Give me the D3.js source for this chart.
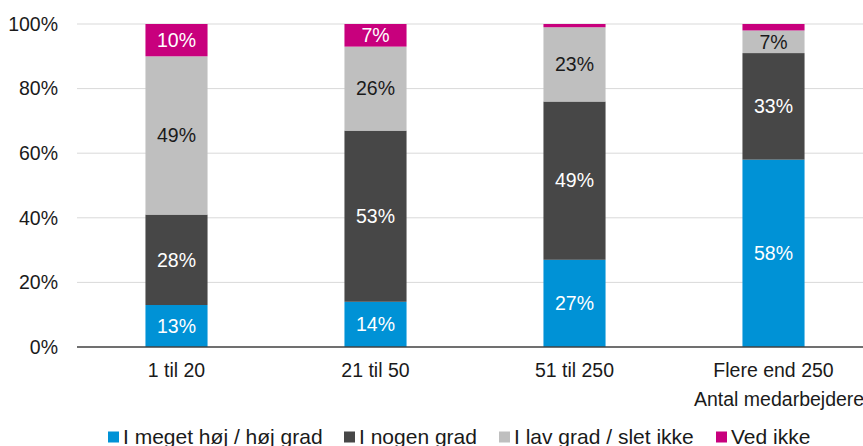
<!DOCTYPE html>
<html>
<head>
<meta charset="utf-8">
<script src="https://cdn.jsdelivr.net/npm/d3@7"></script>
<style>
  html, body { margin: 0; padding: 0; background: #fff; }
  svg { display: block; font-family: "Liberation Sans", Arial, sans-serif; }
</style>
</head>
<body>
<svg id="chart" width="863" height="446"></svg>
<script>
// Company size groups (x axis)
const categories = ["1 til 20", "21 til 50", "51 til 250", "Flere end 250"];
// Answer groups, stacked bottom to top
const seriesNames = ["I meget høj / høj grad", "I nogen grad", "I lav grad / slet ikke", "Ved ikke"];
const highValues  = [13, 14, 27, 58];
const someValues  = [28, 53, 49, 33];
const lowValues   = [49, 26, 23, 7];
const dontKnow    = [10, 7, 1, 2];
// Y axis ticks
const yTicks = [0, 20, 40, 60, 80, 100];
const axisTitle = "Antal medarbejdere";

const colors = ["#0092d6", "#474747", "#bfbfbf", "#c8007d"];
const labelColors = ["#ffffff", "#ffffff", "#1a1a1a", "#ffffff"];

const svg = d3.select("#chart");
const margin = { left: 77, right: 873, top: 24, bottom: 347 };

const x = d3.scaleBand().domain(categories).range([margin.left, margin.right]).paddingInner(0.688).paddingOuter(0.344);
const y = d3.scaleLinear().domain([0, 100]).range([margin.bottom, margin.top]);

// Gridlines
svg.append("g").selectAll("line").data(yTicks.filter(t => t > 0)).join("line")
  .attr("x1", margin.left).attr("x2", 863)
  .attr("y1", d => y(d)).attr("y2", d => y(d))
  .attr("stroke", "#d9d9d9").attr("stroke-width", 1);

// Stack data
const rows = categories.map((c, i) => ({
  cat: c,
  [seriesNames[0]]: highValues[i],
  [seriesNames[1]]: someValues[i],
  [seriesNames[2]]: lowValues[i],
  [seriesNames[3]]: dontKnow[i]
}));
const stacked = d3.stack().keys(seriesNames)(rows);

const layers = svg.append("g").selectAll("g").data(stacked).join("g")
  .attr("fill", (d, i) => colors[i]);

layers.selectAll("rect").data(d => d).join("rect")
  .attr("x", d => x(d.data.cat))
  .attr("width", x.bandwidth())
  .attr("y", d => y(d[1]))
  .attr("height", d => y(d[0]) - y(d[1]));

// Value labels (small segments stay unlabelled)
stacked.forEach((layer, si) => {
  svg.append("g").selectAll("text").data(layer.filter(d => (d[1] - d[0]) >= 5)).join("text")
    .attr("x", d => x(d.data.cat) + x.bandwidth() / 2)
    .attr("y", d => y((d[0] + d[1]) / 2))
    .attr("dy", "0.35em")
    .attr("text-anchor", "middle")
    .attr("font-size", 19.5)
    .attr("fill", labelColors[si])
    .text(d => Math.round(d[1] - d[0]) + "%");
});

// Baseline
svg.append("line")
  .attr("x1", margin.left).attr("x2", 863)
  .attr("y1", y(0)).attr("y2", y(0))
  .attr("stroke", "#404040").attr("stroke-width", 1.5);

// Y axis labels
svg.append("g").selectAll("text").data(yTicks).join("text")
  .attr("x", 58)
  .attr("y", d => y(d))
  .attr("dy", "0.35em")
  .attr("text-anchor", "end")
  .attr("font-size", 19.5)
  .attr("fill", "#1a1a1a")
  .text(d => d + "%");

// Category labels
svg.append("g").selectAll("text").data(categories).join("text")
  .attr("x", d => x(d) + x.bandwidth() / 2)
  .attr("y", 370)
  .attr("dy", "0.35em")
  .attr("text-anchor", "middle")
  .attr("font-size", 19.5)
  .attr("fill", "#1a1a1a")
  .text(d => d);

// Axis title
svg.append("text")
  .attr("x", 694).attr("y", 399).attr("dy", "0.35em")
  .attr("font-size", 19.5).attr("fill", "#1a1a1a")
  .text(axisTitle);

// Legend
const legendX = [108, 344, 499, 716];
const legend = svg.append("g").selectAll("g").data(seriesNames).join("g")
  .attr("transform", (d, i) => `translate(${legendX[i]},437)`);
legend.append("rect").attr("x", 0).attr("y", -5.5).attr("width", 11).attr("height", 11)
  .attr("fill", (d, i) => colors[i]);
legend.append("text").attr("x", 15).attr("y", 0).attr("dy", "0.35em")
  .attr("font-size", 21).attr("fill", "#1a1a1a")
  .text(d => d);
</script>
</body>
</html>
